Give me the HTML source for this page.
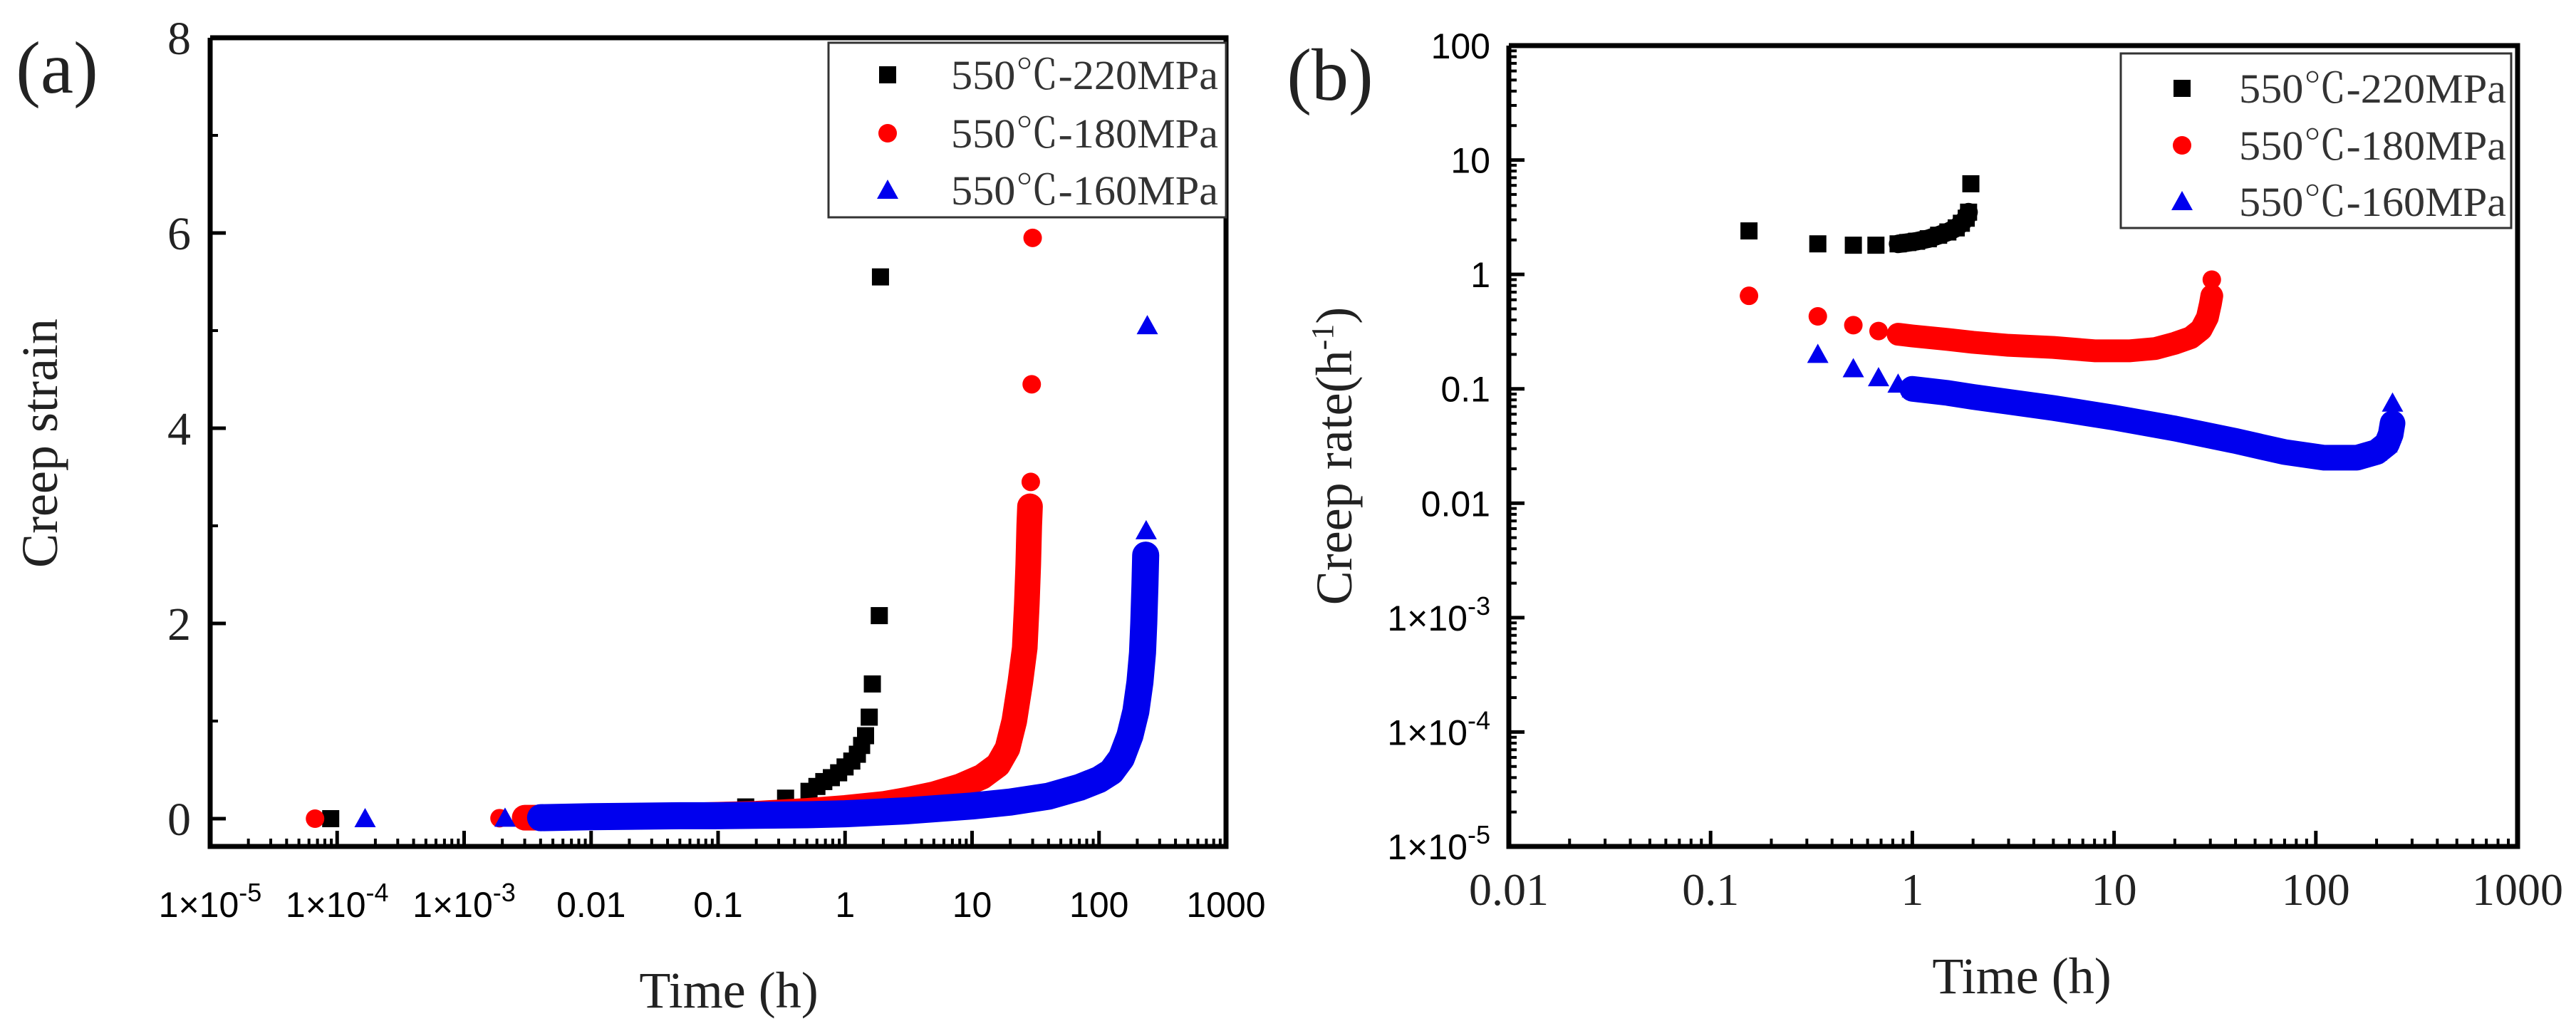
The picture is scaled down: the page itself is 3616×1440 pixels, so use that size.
<!DOCTYPE html>
<html><head><meta charset="utf-8"><style>
html,body{margin:0;padding:0;background:#fff;}
svg{display:block;}
.serif{font-family:"Liberation Serif","Noto Serif CJK SC",serif;}
.sans{font-family:"Liberation Sans","Noto Sans CJK SC",sans-serif;}
</style></head>
<body>
<svg id="fig" width="3616" height="1440" viewBox="0 0 3616 1440" xmlns="http://www.w3.org/2000/svg">
<rect width="3616" height="1440" fill="#fff"/>
<g id="pa"></g>
<g id="pb"></g>
</svg>
<script>
// ---------- Panel (a) data: creep strain vs time ----------
const aXTicks = [1e-5,1e-4,1e-3,0.01,0.1,1,10,100,1000];
const aXTickLabels = [["1×10","-5"],["1×10","-4"],["1×10","-3"],["0.01",""],["0.1",""],["1",""],["10",""],["100",""],["1000",""]];
const aYTicks = [0,2,4,6,8];
const aYTickLabels = ["0","2","4","6","8"];
// 220 MPa
const a220SparseT = [8.9e-5,0.087,0.165,0.34,0.52,0.6,0.68,0.78,0.89,1.0,1.13,1.25,1.35,1.45,1.55,1.64,1.86,1.9];
const a220SparseV = [0,0.08,0.12,0.21,0.28,0.33,0.38,0.42,0.47,0.53,0.59,0.66,0.75,0.85,1.04,1.38,2.08,5.55];
const a220DenseT = [0.003,0.005,0.01,0.02,0.04,0.07];
const a220DenseV = [0.01,0.015,0.02,0.025,0.03,0.04];
// 180 MPa
const a180SparseT = [6.7e-5,0.0019,29.0,29.5,30.0];
const a180SparseV = [0,0.005,3.45,4.45,5.95];
const a180DenseT = [0.003,0.005,0.01,0.02,0.05,0.1,0.2,0.5,1,2,3,5,8,12,16,19,21.5,24,26,27,27.7,28.2,28.6];
const a180DenseV = [0.01,0.01,0.015,0.02,0.03,0.04,0.05,0.08,0.11,0.15,0.19,0.25,0.33,0.43,0.55,0.72,1.0,1.4,1.75,2.2,2.6,3.0,3.2];
// 160 MPa
const a160SparseT = [1.66e-4,0.0021,0.17,0.34,235,240];
const a160SparseV = [0,0.005,0.03,0.03,2.95,5.05];
const a160DenseT = [0.004,0.01,0.05,0.1,0.5,1,3,10,20,40,70,100,125,150,175,195,210,220,225,230,233];
const a160DenseV = [0.01,0.02,0.03,0.03,0.04,0.05,0.08,0.13,0.17,0.23,0.32,0.40,0.48,0.62,0.85,1.1,1.4,1.7,2.0,2.4,2.7];

// ---------- Panel (b) data: creep rate vs time ----------
const bXTicks = [0.01,0.1,1,10,100,1000];
const bXTickLabels = ["0.01","0.1","1","10","100","1000"];
const bYTicks = [100,10,1,0.1,0.01,1e-3,1e-4,1e-5];
const bYTickLabels = [["100",""],["10",""],["1",""],["0.1",""],["0.01",""],["1×10","-3"],["1×10","-4"],["1×10","-5"]];
const b220SparseT = [0.155,0.34,0.51,0.66,1.95];
const b220SparseV = [2.4,1.85,1.8,1.8,6.2];
const b220DenseT = [0.85,0.95,1.05,1.2,1.35,1.5,1.65,1.75,1.85,1.9];
const b220DenseV = [1.85,1.9,1.95,2.05,2.2,2.35,2.55,2.8,3.1,3.5];
const b180SparseT = [0.155,0.34,0.51,0.68,30.5];
const b180SparseV = [0.65,0.43,0.36,0.32,0.9];
const b180DenseT = [0.85,1,1.5,2,3,5,8,12,16,20,24,27,29,30,30.5];
const b180DenseV = [0.3,0.29,0.27,0.255,0.24,0.23,0.215,0.215,0.225,0.25,0.28,0.33,0.42,0.55,0.65];
const b160SparseT = [0.34,0.51,0.68,0.85,240];
const b160SparseV = [0.2,0.15,0.125,0.11,0.075];
const b160DenseT = [1,1.5,2,3,5,10,20,40,70,110,160,200,225,235,240];
const b160DenseV = [0.1,0.092,0.085,0.077,0.068,0.056,0.045,0.035,0.028,0.025,0.025,0.028,0.033,0.04,0.05];

const NS = "http://www.w3.org/2000/svg";
function mk(tag, attrs, parent){ const e=document.createElementNS(NS,tag); for(const k in attrs) e.setAttribute(k,attrs[k]); parent.appendChild(e); return e; }
const COL = {s220:"#000000", s180:"#ff0000", s160:"#0000ee"};

function marker(kind, x, y, parent, size){
  const s=size||12; let m;
  if(kind==="sq") m=mk("rect",{x:x-s,y:y-s,width:2*s,height:2*s,fill:COL.s220},parent);
  else if(kind==="ci") m=mk("circle",{cx:x,cy:y,r:s+1,fill:COL.s180},parent);
  else m=mk("polygon",{points:`${x},${y-s-3} ${x+s+3},${y+s} ${x-s-3},${y+s}`,fill:COL.s160},parent);
  return m;
}

function drawSeries(g, kind, color, dT, dV, sT, sV, fx, fy, name, bw){
  const sg = mk("g",{},g);
  
  
  const pts = dT.map((t,i)=>fx(t)+","+fy(dV[i])).join(" ");
  const band = mk("polyline",{points:pts,fill:"none",stroke:color,"stroke-width":bw||30,"stroke-linejoin":"round","stroke-linecap":"round"},sg);
  
  
  dT.forEach((t,i)=>{ const m=marker(kind,fx(t),fy(dV[i]),sg);
    
     });
  sT.forEach((t,i)=>{ const m=marker(kind,fx(t),fy(sV[i]),sg);
    
     });
}

function legend(g, x0,y0,x1,y1, rows, mx, tx){
  const lg = mk("g",{},g);
  
  
  mk("rect",{x:x0,y:y0,width:x1-x0,height:y1-y0,fill:"#fff",stroke:"#333","stroke-width":3},lg);
  const kinds=["sq","ci","tr"], labels=["550℃-220MPa","550℃-180MPa","550℃-160MPa"];
  rows.forEach((ry,i)=>{
    const m=marker(kinds[i],mx,ry,lg);
    
    
    const t=mk("text",{x:tx,y:ry+20,"font-size":58,fill:"#333",class:"serif",textLength:375,lengthAdjust:"spacingAndGlyphs"},lg);
    t.textContent=labels[i];
    
    
  });
}

// ---------- Panel A ----------
(function(){
  const g=document.getElementById("pa");
  const L=295,R=1721,T=53,B=1188;
  const lx0=-5, lx1=3;
  const fx=t=>L+(Math.log10(t)-lx0)/(lx1-lx0)*(R-L);
  const y0=1149, ppu=137;
  const fy=v=>y0-v*ppu;
  for(let d=lx0; d<lx1; d++){
    for(let k=2;k<=9;k++){ const x=fx(k*Math.pow(10,d));
      mk("line",{x1:x,x2:x,y1:B,y2:B-11,stroke:"#000","stroke-width":4},g); }
  }
  aXTicks.forEach((t,i)=>{ const x=fx(t);
    mk("line",{x1:x,x2:x,y1:B,y2:B-22,stroke:"#000","stroke-width":5},g);
    const tx=mk("text",{x:x,y:1287,"font-size":50,"text-anchor":"middle",class:"sans",fill:"#000"},g);
    
    
    tx.appendChild(document.createTextNode(aXTickLabels[i][0]));
    if(aXTickLabels[i][1]){ const s=mk("tspan",{dy:-22,"font-size":36},tx); s.textContent=aXTickLabels[i][1]; }
  });
  [1,3,5,7].forEach(v=>mk("line",{x1:L,x2:L+11,y1:fy(v),y2:fy(v),stroke:"#000","stroke-width":4},g));
  aYTicks.forEach((v,i)=>{ mk("line",{x1:L,x2:L+22,y1:fy(v),y2:fy(v),stroke:"#000","stroke-width":5},g);
    const t=mk("text",{x:268,y:fy(v)+23,"font-size":66,"text-anchor":"end",class:"serif",fill:"#222"},g);
    t.textContent=aYTickLabels[i];
    
    
  });
  drawSeries(g,"sq",COL.s220,a220DenseT,a220DenseV,a220SparseT,a220SparseV,fx,fy,"series-a-220mpa",26);
  drawSeries(g,"ci",COL.s180,a180DenseT,a180DenseV,a180SparseT,a180SparseV,fx,fy,"series-a-180mpa",36);
  drawSeries(g,"tr",COL.s160,a160DenseT,a160DenseV,a160SparseT,a160SparseV,fx,fy,"series-a-160mpa",38);
  const f=mk("polyline",{points:`${L},${T} ${L},${B} ${R},${B} ${R},${T} ${L},${T}`,fill:"none",stroke:"#000","stroke-width":7},g);
   
  legend(g,1163,60,1721,305,[105,187,267],1246,1335);
  let t=mk("text",{x:1023,y:1414,"font-size":72,"text-anchor":"middle",class:"serif",fill:"#222"},g);
  t.textContent="Time (h)";  
  t=mk("text",{x:0,y:0,"font-size":72,"text-anchor":"middle",class:"serif",fill:"#222",transform:"translate(80,622) rotate(-90)"},g);
  t.textContent="Creep strain";  
  t=mk("text",{x:80,y:130,"font-size":104,"text-anchor":"middle",class:"serif",fill:"#222"},g);
  t.textContent="(a)";  
})();

// ---------- Panel B ----------
(function(){
  const g=document.getElementById("pb");
  const L=2118,R=3534,T=64,B=1188;
  const lx0=-2,lx1=3, ly0=-5, ly1=2;
  const fx=t=>L+(Math.log10(t)-lx0)/(lx1-lx0)*(R-L);
  const fy=v=>B-(Math.log10(v)-ly0)/(ly1-ly0)*(B-T);
  for(let d=lx0; d<lx1; d++) for(let k=2;k<=9;k++){ const x=fx(k*Math.pow(10,d));
    mk("line",{x1:x,x2:x,y1:B,y2:B-11,stroke:"#000","stroke-width":4},g); }
  for(let d=ly0; d<ly1; d++) for(let k=2;k<=9;k++){ const y=fy(k*Math.pow(10,d));
    mk("line",{x1:L,x2:L+11,y1:y,y2:y,stroke:"#000","stroke-width":4},g); }
  bXTicks.forEach((v,i)=>{ const x=fx(v);
    mk("line",{x1:x,x2:x,y1:B,y2:B-22,stroke:"#000","stroke-width":5},g);
    const t=mk("text",{x:x,y:1270,"font-size":64,"text-anchor":"middle",class:"serif",fill:"#222"},g);
    t.textContent=bXTickLabels[i];  
  });
  bYTicks.forEach((v,i)=>{ const y=fy(v);
    mk("line",{x1:L,x2:L+22,y1:y,y2:y,stroke:"#000","stroke-width":5},g);
    const t=mk("text",{x:2092,y:y+18,"font-size":50,"text-anchor":"end",class:"sans",fill:"#000"},g);
     
    t.appendChild(document.createTextNode(bYTickLabels[i][0]));
    if(bYTickLabels[i][1]){ const s=mk("tspan",{dy:-22,"font-size":36},t); s.textContent=bYTickLabels[i][1]; }
  });
  drawSeries(g,"tr",COL.s160,b160DenseT,b160DenseV,b160SparseT,b160SparseV,fx,fy,"series-b-160mpa",36);
  drawSeries(g,"ci",COL.s180,b180DenseT,b180DenseV,b180SparseT,b180SparseV,fx,fy,"series-b-180mpa",32);
  drawSeries(g,"sq",COL.s220,b220DenseT,b220DenseV,b220SparseT,b220SparseV,fx,fy,"series-b-220mpa",26);
  const f=mk("polyline",{points:`${L},${T} ${L},${B} ${R},${B} ${R},${T} ${L},${T}`,fill:"none",stroke:"#000","stroke-width":7},g);
   
  legend(g,2977,75,3525,320,[124,204,283],3063,3143);
  let t=mk("text",{x:2838,y:1394,"font-size":72,"text-anchor":"middle",class:"serif",fill:"#222"},g);
  t.textContent="Time (h)";  
  t=mk("text",{x:0,y:0,"font-size":72,"text-anchor":"middle",class:"serif",fill:"#222",transform:"translate(1897,640) rotate(-90)"},g);
   
  t.appendChild(document.createTextNode("Creep rate(h"));
  let s=mk("tspan",{dy:-26,"font-size":44},t); s.textContent="-1";
  s=mk("tspan",{dy:26},t); s.textContent=")";
  t=mk("text",{x:1867,y:140,"font-size":104,"text-anchor":"middle",class:"serif",fill:"#222"},g);
  t.textContent="(b)";  
})();
</script>
</body></html>
